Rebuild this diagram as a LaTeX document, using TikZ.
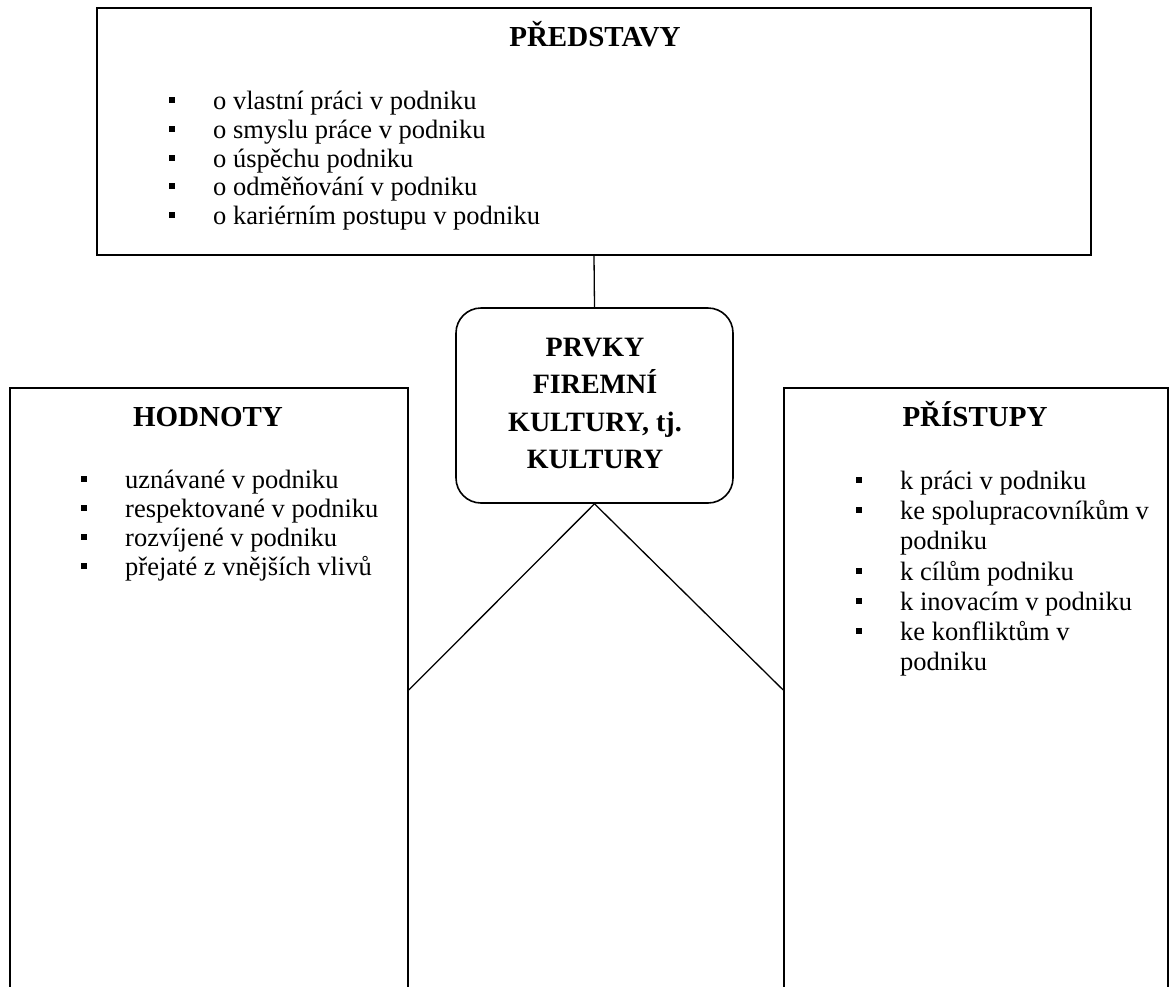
\documentclass[tikz,border=0pt]{standalone}
\usepackage{fontspec}
\setmainfont{Liberation Serif}
\begin{document}
\begin{tikzpicture}[x=1pt,y=-1pt,
  frame/.style={draw=black,line width=1.6pt,inner sep=0pt,fill=none},
  link/.style={draw=black,line width=1.3pt},
  heading/.style={font=\fontsize{29}{34}\selectfont\bfseries,inner sep=0pt,anchor=base},
  coretext/.style={font=\fontsize{28}{33}\selectfont\bfseries,inner sep=0pt,anchor=base},
  itemtext/.style={font=\fontsize{26.5}{30}\selectfont,inner sep=0pt,anchor=base west},
  sqbullet/.style={fill=black,draw=none,minimum size=6.5pt,inner sep=0pt}]
\useasboundingbox (0,0) rectangle (1172,986);
\clip (0,0) rectangle (1172,986);

% bullet + text line of a list
\newcommand{\listline}[4]{%
  \node[itemtext] (#1) at (#2,#3) {#4};
  \node[sqbullet] (#1b) at (#2-41,#3-9) {};}
\newcommand{\plainline}[4]{%
  \node[itemtext] (#1) at (#2,#3) {#4};}

% frames
\node[frame,minimum width=994pt,minimum height=247pt] (top) at (594,131.5) {};
\node[frame,minimum width=398pt,minimum height=604pt] (left) at (209,690) {};
\node[frame,minimum width=384pt,minimum height=604pt] (right) at (976,690) {};
\node[frame,rounded corners=25pt,minimum width=277pt,minimum height=195pt] (core) at (594.5,405.5) {};

% connectors
\draw[link] (top.south) -- (core.north);
\draw[link] (core.south) -- (left.east);
\draw[link] (core.south) -- (right.west);

% top frame
\node[heading] (tth) at (595,46) {PŘEDSTAVY};
\listline{t1}{213}{109}{o vlastní práci v podniku}
\listline{t2}{213}{138}{o smyslu práce v podniku}
\listline{t3}{213}{167}{o úspěchu podniku}
\listline{t4}{213}{195}{o odměňování v podniku}
\listline{t5}{213}{224}{o kariérním postupu v podniku}

% central element
\node[coretext] (c1) at (595,356) {PRVKY};
\node[coretext] (c2) at (595,393.5) {FIREMNÍ};
\node[coretext] (c3) at (595,431) {KULTURY, tj.};
\node[coretext] (c4) at (595,468.5) {KULTURY};

% left frame
\node[heading] (lth) at (208,426) {HODNOTY};
\listline{l1}{125}{488}{uznávané v podniku}
\listline{l2}{125}{517}{respektované v podniku}
\listline{l3}{125}{546}{rozvíjené v podniku}
\listline{l4}{125}{575}{přejaté z vnějších vlivů}

% right frame
\node[heading] (rth) at (975,426) {PŘÍSTUPY};
\listline{r1}{900}{489}{k práci v podniku}
\listline{r2}{900}{519}{ke spolupracovníkům v}
\plainline{r2c}{900}{549}{podniku}
\listline{r3}{900}{580}{k cílům podniku}
\listline{r4}{900}{610}{k inovacím v podniku}
\listline{r5}{900}{640}{ke konfliktům v}
\plainline{r5c}{900}{670}{podniku}
\end{tikzpicture}
\end{document}
